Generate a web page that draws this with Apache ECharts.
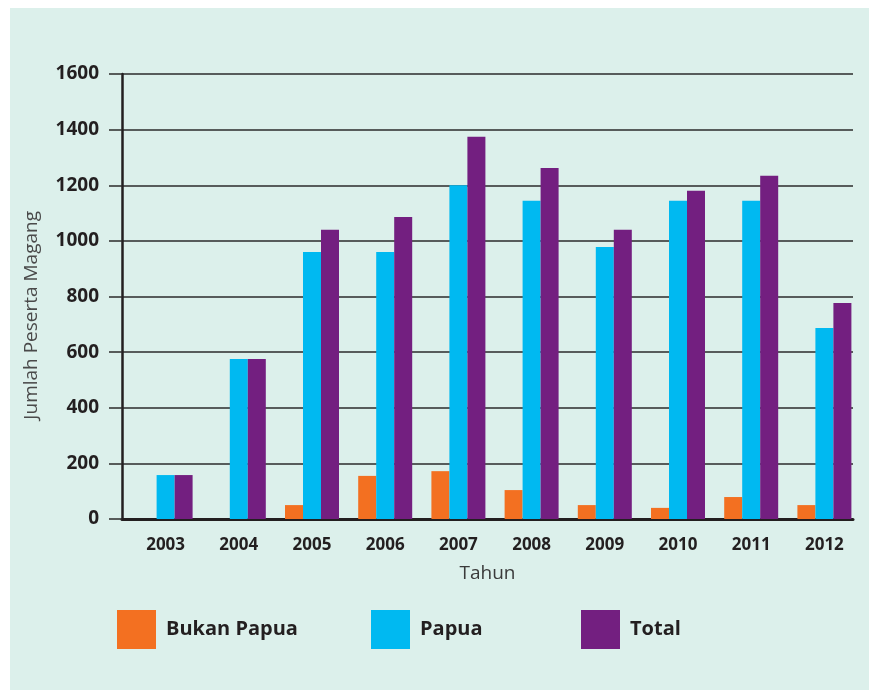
<!DOCTYPE html>
<html>
<head>
<meta charset="utf-8">
<script src="https://cdn.jsdelivr.net/npm/echarts@6/dist/echarts.min.js"></script>
<style>
html,body{margin:0;padding:0;background:#ffffff;}
#panel{position:absolute;left:10px;top:8px;width:859px;height:682px;background:#dcf0eb;}
#chart{position:absolute;left:0;top:0;width:869px;height:692px;}
</style>
</head>
<body>
<div id="panel"></div>
<div id="chart"></div>
<script>
const categories = ['2003','2004','2005','2006','2007','2008','2009','2010','2011','2012'];
const bukanPapua = [0, 0, 50, 155, 172, 104, 50, 40, 79, 50];
const papua = [158, 575, 960, 960, 1200, 1144, 978, 1144, 1144, 687];
const total = [158, 575, 1040, 1086, 1374, 1262, 1040, 1180, 1234, 777];
const seriesNames = ['Bukan Papua', 'Papua', 'Total'];
const yTicks = {min: 0, max: 1600, interval: 200};

const FONT = '"Open Sans", "DejaVu Sans", sans-serif';
const DARK = '#231f20';
const chart = echarts.init(document.getElementById('chart'), null, {renderer: 'canvas'});

const legendBase = (name, left) => ({
  data: [name], left: left, top: 610, orient: 'horizontal', padding: 0,
  icon: 'rect', itemWidth: 39, itemHeight: 39, selectedMode: false,
  textStyle: {fontFamily: FONT, fontWeight: 'bold', fontSize: 20, color: DARK, padding: [0, 0, 0, 5]}
});

chart.setOption({
  backgroundColor: 'transparent',
  animation: false,
  textStyle: {fontFamily: FONT},
  legend: [legendBase(seriesNames[0], 117), legendBase(seriesNames[1], 371), legendBase(seriesNames[2], 581)],
  graphic: [{
    type: 'text', left: 22, top: 211, rotation: Math.PI / 2,
    style: {text: 'Jumlah Peserta Magang', fontFamily: FONT, fontSize: 19, fill: '#4a4a4a'}
  }],
  grid: [
    {left: 122, right: 16, top: 74, bottom: 173, containLabel: false},
    {left: 129, right: 8, top: 74, bottom: 173, containLabel: false}
  ],
  xAxis: [
    {
      type: 'category', gridIndex: 0, data: categories,
      axisLine: {show: true, lineStyle: {color: DARK, width: 3}},
      axisTick: {show: false}, axisLabel: {show: false},
      name: 'Tahun', nameLocation: 'middle', nameGap: 45,
      nameTextStyle: {fontFamily: FONT, fontSize: 19, color: '#3a3a3a'}
    },
    {
      type: 'category', gridIndex: 1, data: categories,
      axisLine: {show: false}, axisTick: {show: false},
      axisLabel: {show: true, margin: 18, fontFamily: FONT, fontWeight: 'bold', fontSize: 17, color: DARK}
    }
  ],
  yAxis: [
    {
      type: 'value', gridIndex: 0, min: yTicks.min, max: yTicks.max, interval: yTicks.interval,
      axisLine: {show: true, lineStyle: {color: DARK, width: 2.5}},
      axisTick: {show: true, length: 13, lineStyle: {color: '#2b2b2b', width: 1.5}},
      axisLabel: {margin: 23, fontFamily: FONT, fontWeight: 'bold', fontSize: 19, color: DARK,
        formatter: v => String(v)},
      splitLine: {show: true, lineStyle: {color: '#2b2b2b', width: 1.5}}
    },
    {
      type: 'value', gridIndex: 1, min: yTicks.min, max: yTicks.max, interval: yTicks.interval,
      show: false, splitLine: {show: false}
    }
  ],
  series: [
    {name: seriesNames[0], type: 'bar', xAxisIndex: 1, yAxisIndex: 1, data: bukanPapua, barWidth: 18, barGap: '0%', itemStyle: {color: '#f37021'}, z: 3},
    {name: seriesNames[1], type: 'bar', xAxisIndex: 1, yAxisIndex: 1, data: papua, barWidth: 18, barGap: '0%', itemStyle: {color: '#00b9f1'}, z: 3},
    {name: seriesNames[2], type: 'bar', xAxisIndex: 1, yAxisIndex: 1, data: total, barWidth: 18, barGap: '0%', itemStyle: {color: '#731f80'}, z: 3}
  ]
});
</script>
</body>
</html>
